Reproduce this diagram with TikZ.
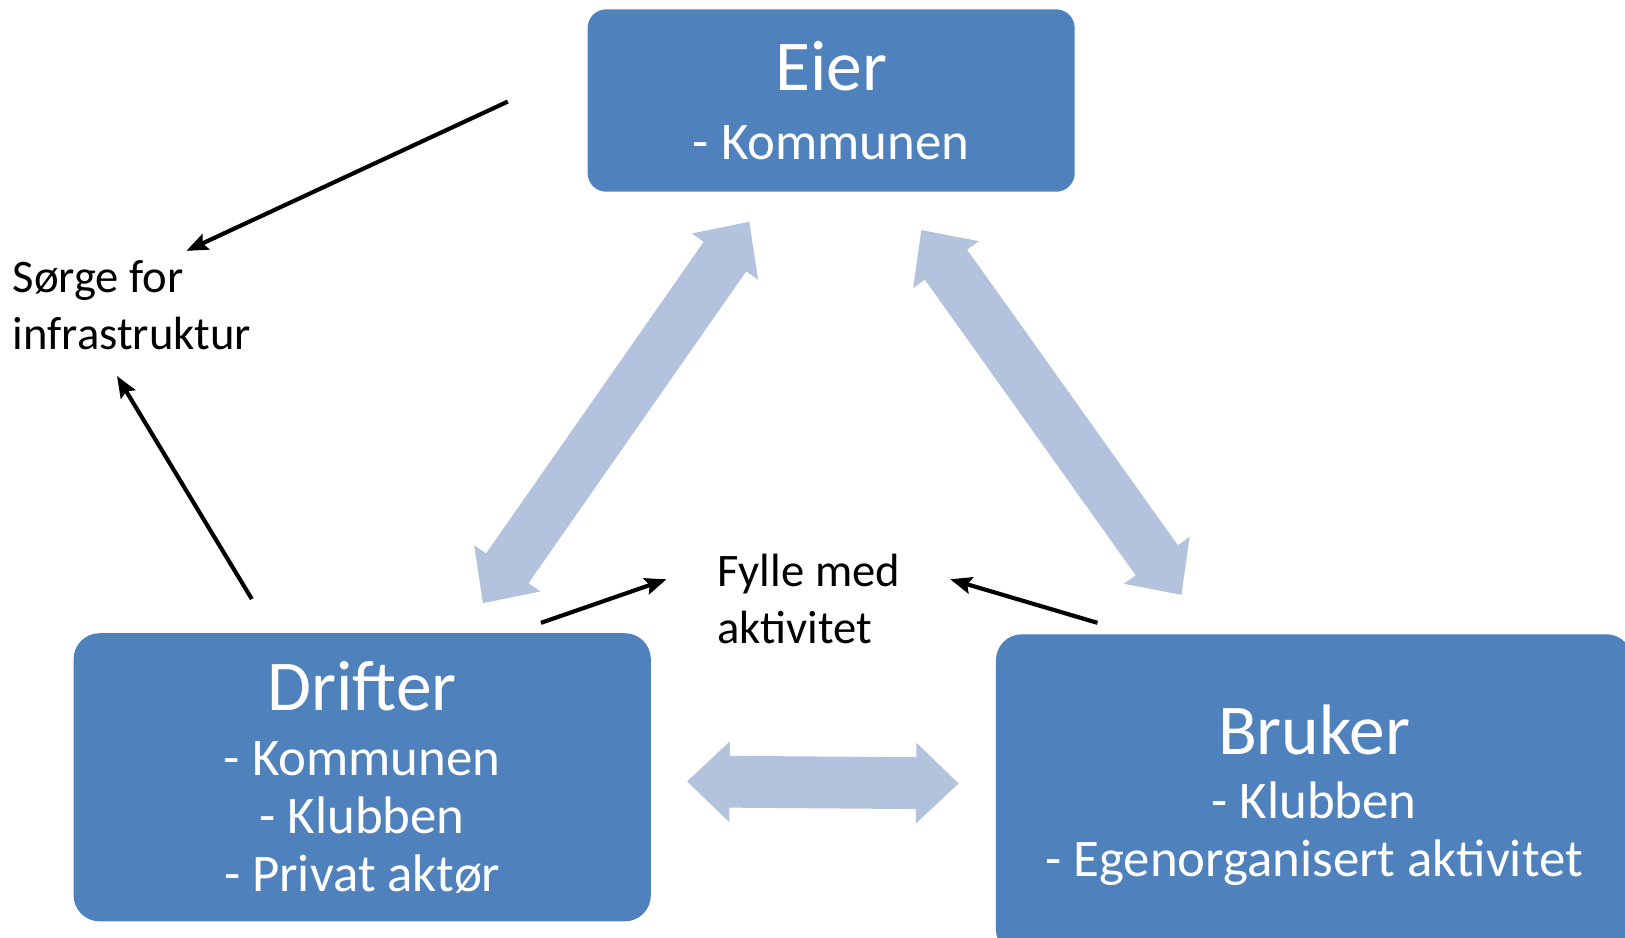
\documentclass[tikz,border=0pt]{standalone}
\usepackage{fontspec}
\setmainfont{Carlito}
\usetikzlibrary{arrows.meta,calc}
\definecolor{boxblue}{HTML}{4F81BD}
\definecolor{arrowblue}{HTML}{B3C3DE}
\newcommand{\boxtitle}[1]{{\fontsize{69}{69}\selectfont #1}}
% wide two-headed arrow from #1 to #2 (shaft 50pt, heads 78pt x 41pt)
\newcommand{\widearrow}[2]{%
  \coordinate (ha) at ($(#1)!41pt!(#2)$);
  \coordinate (hb) at ($(#2)!41pt!(#1)$);
  \fill[arrowblue] (#1) -- ($(ha)!39pt!90:(#2)$) -- ($(ha)!25pt!90:(#2)$)
    -- ($(hb)!25pt!-90:(#1)$) -- ($(hb)!39pt!-90:(#1)$) -- (#2)
    -- ($(hb)!39pt!90:(#1)$) -- ($(hb)!25pt!90:(#1)$)
    -- ($(ha)!25pt!-90:(#2)$) -- ($(ha)!39pt!-90:(#2)$) -- cycle;}
\tikzset{%
  >={Stealth[length=21pt,width=17pt,inset=4pt,line width=1pt]},
  % Specifications for style of nodes:
            base/.style = {rectangle, fill=boxblue, text=white,
                           align=center, inner sep=0pt,
                           font=\fontsize{51}{56}\selectfont},
		eierstyle/.style = {base, rounded corners=18pt,
                           minimum width=470pt, minimum height=176pt},
		drifterstyle/.style = {base, rounded corners=25pt,
                           minimum width=557pt, minimum height=278pt},
		brukerstyle/.style = {base, rounded corners=25pt,
                           minimum width=614pt, minimum height=310pt},
		labelstyle/.style = {align=left, inner sep=0pt, anchor=west,
                           font=\fontsize{45}{55}\selectfont},
		thinarrow/.style = {draw=black, line width=4pt, ->},
}

\begin{document}
\begin{tikzpicture}[x=1pt, y=-1pt]
  \useasboundingbox (0,0) rectangle (1568,905);
  % Specification of nodes (position, etc.)
  \node (eier)    [eierstyle]    at (802,97)   {\boxtitle{Eier}\\[10pt] - Kommunen};
  \node (drifter) [drifterstyle] at (349.5,750) {\boxtitle{Drifter}\\[6pt] - Kommunen\\ - Klubben\\ - Privat aktør};
  \node (bruker)  [brukerstyle]  at (1268,767) {\boxtitle{Bruker}\\[6pt] - Klubben\\ - Egenorganisert aktivitet};
  \node (sorge)   [labelstyle]   at (12,294)   {Sørge for\\infrastruktur};
  \node (fylle)   [labelstyle]   at (692,578)  {Fylle med\\aktivitet};

  % Ends of the arrows between the nodes
  \coordinate (eiertop)    at (723,214);
  \coordinate (drifterup)  at (466,582);
  \coordinate (eierright)  at (889,222);
  \coordinate (brukerup)   at (1140,574);
  \coordinate (drifterrgt) at (663,754);
  \coordinate (brukerlft)  at (925,756);
  \coordinate (eierout)    at (490,98);
  \coordinate (sorgetop)   at (180,242);
  \coordinate (drifterout) at (243,578);
  \coordinate (sorgebot)   at (113,363);
  \coordinate (driftfill)  at (522,601);
  \coordinate (fylleleft)  at (643,559);
  \coordinate (brukfill)   at (1059,601);
  \coordinate (fylleright) at (917,559);

  % Specification of lines between nodes specified above
	\widearrow{eiertop}{drifterup}
	\widearrow{eierright}{brukerup}
	\widearrow{drifterrgt}{brukerlft}
	\draw[thinarrow]	(eierout) --    (sorgetop);
	\draw[thinarrow]	(drifterout) -- (sorgebot);
	\draw[thinarrow]	(driftfill) --  (fylleleft);
	\draw[thinarrow]	(brukfill) --   (fylleright);
\end{tikzpicture}
\end{document}
